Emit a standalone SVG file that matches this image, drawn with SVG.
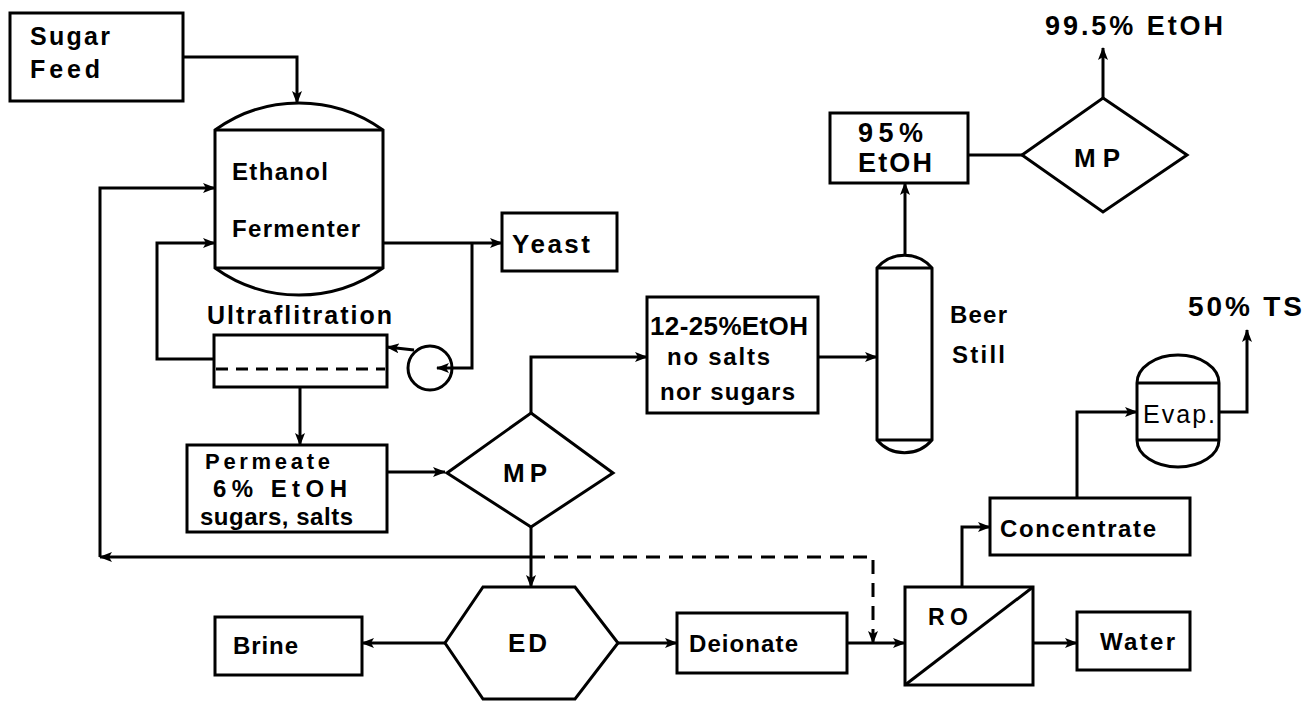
<svg xmlns="http://www.w3.org/2000/svg" width="1305" height="701" viewBox="0 0 1305 701">
<defs>
<marker id="arr" markerUnits="userSpaceOnUse" markerWidth="14" markerHeight="10" refX="12" refY="5" orient="auto">
<path d="M0,0 L13,5 L0,10 L3,5 z" fill="#000"/>
</marker>
<style>
.box{fill:#fff;stroke:#000;stroke-width:3}
.shape{fill:none;stroke:#000;stroke-width:3}
.ln{fill:none;stroke:#000;stroke-width:3;marker-end:url(#arr)}
.pl{fill:none;stroke:#000;stroke-width:3}
.dash{fill:none;stroke:#000;stroke-width:3;stroke-dasharray:14 9;marker-end:url(#arr)}
.t{font-family:"Liberation Sans",Arial,sans-serif;font-weight:bold;font-size:24px;fill:#000}
.tn{font-family:"Liberation Sans",Arial,sans-serif;font-weight:normal;font-size:25px;fill:#000}
.s22{font-size:22px}
.s25{font-size:25px}
.s26{font-size:26px}
.s27{font-size:27px}
.s28{font-size:28px}
.s23{font-size:23px}
</style>
</defs>
<rect width="1305" height="701" fill="#fff"/>

<g id="connectors">
<path class="ln" d="M183,57 H297 V103"/>
<path class="ln" d="M531,557 H100"/>
<path class="ln" d="M100,557 V188 H215"/>
<path class="ln" d="M214,359 H157 V243 H215"/>
<path class="ln" d="M383,243 H502"/>
<path class="ln" d="M472,243 V368 H437"/>
<path class="ln" d="M414,350 L387,347"/>
<path class="ln" d="M300,387 V445"/>
<path class="ln" d="M387,472 H445"/>
<path class="ln" d="M531,413 V357 H647"/>
<path class="ln" d="M531,527 V587"/>
<path class="dash" d="M531,557 H873 V643"/>
<path class="ln" d="M445,643 H362"/>
<path class="ln" d="M618,643 H677"/>
<path class="ln" d="M847,643 H905"/>
<path class="ln" d="M962,587 V527 H990"/>
<path class="ln" d="M1033,643 H1077"/>
<path class="ln" d="M1077,498 V412 H1137"/>
<path class="ln" d="M1219,412 H1247 V330"/>
<path class="ln" d="M818,357 H877"/>
<path class="ln" d="M905,255 V183"/>
<path class="pl" d="M968,155 H1022"/>
<path class="ln" d="M1103,98 V48"/>
</g>

<g id="sugar-feed">
<rect class="box" x="10" y="13" width="173" height="88"/>
<text class="t s25" x="30" y="45" textLength="80" lengthAdjust="spacing">Sugar</text>
<text class="t s25" x="30" y="78" textLength="70" lengthAdjust="spacing">Feed</text>
</g>

<g id="fermenter">
<path class="box" d="M215,130 A144,144 0 0 1 383,130 V268 A144,144 0 0 1 215,268 Z"/>
<path class="shape" d="M215,130 H383 M215,268 H383"/>
<text class="t" x="232" y="180" textLength="96" lengthAdjust="spacing">Ethanol</text>
<text class="t" x="232" y="237" textLength="128" lengthAdjust="spacing">Fermenter</text>
</g>

<g id="yeast">
<rect class="box" x="502" y="213" width="115" height="58"/>
<text class="t s26" x="512" y="253" textLength="78" lengthAdjust="spacing">Yeast</text>
</g>

<g id="ultrafiltration">
<text class="t s25" x="207" y="324" textLength="185" lengthAdjust="spacing">Ultraflitration</text>
<rect class="box" x="214" y="335" width="173" height="52"/>
<path class="shape" d="M216,369 H385" stroke-dasharray="12 8"/>
</g>

<g id="pump">
<circle class="shape" cx="430" cy="368" r="22"/>
</g>

<g id="permeate">
<rect class="box" x="187" y="445" width="200" height="87"/>
<text class="t s22" x="205" y="469" textLength="125" lengthAdjust="spacing">Permeate</text>
<text class="t" x="213" y="497" textLength="134" lengthAdjust="spacing">6% EtOH</text>
<text class="t" x="200" y="525" textLength="153" lengthAdjust="spacing">sugars, salts</text>
</g>

<g id="mp1">
<path class="box" d="M531,413 L613,473 L531,527 L447,473 Z"/>
<text class="t s26" x="503" y="482" textLength="44" lengthAdjust="spacing">MP</text>
</g>

<g id="ethanol-12-25">
<rect class="box" x="647" y="297" width="171" height="116"/>
<text class="t s26" x="650" y="335" textLength="158" lengthAdjust="spacing">12-25%EtOH</text>
<text class="t" x="667" y="365" textLength="103" lengthAdjust="spacing">no salts</text>
<text class="t" x="660" y="400" textLength="135" lengthAdjust="spacing">nor sugars</text>
</g>

<g id="beer-still">
<path class="box" d="M877,268 A36,36 0 0 1 932,268 V440 A36,36 0 0 1 877,440 Z"/>
<path class="shape" d="M877,268 H932 M877,440 H932"/>
<text class="t" x="950" y="323" textLength="57" lengthAdjust="spacing">Beer</text>
<text class="t" x="952" y="363" textLength="53" lengthAdjust="spacing">Still</text>
</g>

<g id="ethanol-95">
<rect class="box" x="830" y="113" width="138" height="70"/>
<text class="t s27" x="858" y="142" textLength="65" lengthAdjust="spacing">95%</text>
<text class="t s27" x="858" y="172" textLength="74" lengthAdjust="spacing">EtOH</text>
</g>

<g id="mp2">
<path class="box" d="M1103,98 L1187,155 L1103,212 L1022,155 Z"/>
<text class="t s26" x="1074" y="167" textLength="46" lengthAdjust="spacing">MP</text>
</g>

<g id="product-995">
<text class="t s27" x="1045" y="35" textLength="178" lengthAdjust="spacing">99.5% EtOH</text>
</g>

<g id="product-50ts">
<text class="t s28" x="1188" y="316" textLength="114" lengthAdjust="spacing">50% TS</text>
</g>

<g id="evaporator">
<path class="box" d="M1137,383 A41,28 0 0 1 1219,383 V440 A41,27 0 0 1 1137,440 Z"/>
<path class="shape" d="M1137,383 H1219 M1137,440 H1219"/>
<text class="tn" x="1143" y="423" textLength="72" lengthAdjust="spacing">Evap.</text>
</g>

<g id="concentrate">
<rect class="box" x="990" y="498" width="200" height="57"/>
<text class="t" x="1000" y="537" textLength="156" lengthAdjust="spacing">Concentrate</text>
</g>

<g id="ed">
<path class="box" d="M483,587 L575,587 L618,643 L575,699 L483,699 L445,643 Z"/>
<text class="t s26" x="508" y="652" textLength="39" lengthAdjust="spacing">ED</text>
</g>

<g id="brine">
<rect class="box" x="215" y="617" width="147" height="58"/>
<text class="t" x="233" y="654" textLength="65" lengthAdjust="spacing">Brine</text>
</g>

<g id="deionate">
<rect class="box" x="677" y="613" width="170" height="60"/>
<text class="t" x="689" y="652" textLength="109" lengthAdjust="spacing">Deionate</text>
</g>

<g id="ro">
<rect class="box" x="905" y="587" width="128" height="98"/>
<path class="shape" d="M905,685 L1033,587"/>
<text class="t s23" x="928" y="625" textLength="40" lengthAdjust="spacing">RO</text>
</g>

<g id="water">
<rect class="box" x="1077" y="612" width="113" height="58"/>
<text class="t" x="1100" y="650" textLength="75" lengthAdjust="spacing">Water</text>
</g>
</svg>
